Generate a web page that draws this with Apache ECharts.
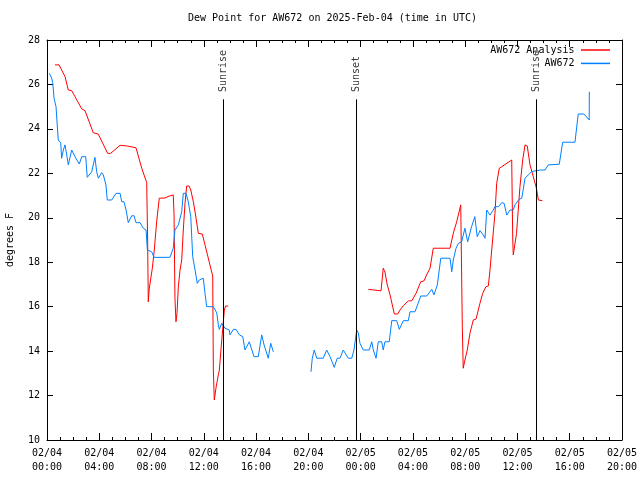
<!DOCTYPE html>
<html>
<head>
<meta charset="utf-8">
<script src="https://cdn.jsdelivr.net/npm/echarts@6/dist/echarts.min.js"></script>
<style>html,body{margin:0;padding:0;background:#fff;}#c{width:640px;height:480px;}</style>
</head>
<body>
<div id="c"></div>
<script>
// Hours since 2025-02-04 00:00 UTC
const analysisHours = [0.61,0.92,1.38,1.63,1.89,2.66,2.91,3.54,3.93,4.64,4.87,5.59,6.14,6.81,7.25,7.63,7.70,7.75,7.83,7.88,8.06,8.21,8.39,8.59,9.03,9.36,9.66,9.72,9.79,9.87,9.95,10.05,10.18,10.31,10.43,10.56,10.69,10.87,11.0,11.2,11.33,11.58,11.88,12.09,12.34,12.53,12.68,12.73,12.8,12.86,12.93,13.03,13.11,13.19,13.31,13.44,13.57,13.67,13.87,
  19.0,
  24.59,25.02,25.56,25.73,25.86,26.04,26.25,26.58,26.84,27.01,27.27,27.65,27.91,28.24,28.6,28.85,29.05,29.31,29.56,30.84,31.09,31.35,31.66,31.73,31.78,31.85,31.98,32.16,32.37,32.62,32.83,33.13,33.34,33.59,33.77,33.9,34.03,34.28,34.41,34.61,34.8,35.56,35.64,35.68,35.76,35.93,36.06,36.19,36.4,36.58,36.75,36.96,37.21,37.42,37.52,37.6,37.9];
const analysisValues = [26.88,26.88,26.35,25.75,25.72,24.9,24.82,23.83,23.76,22.9,22.9,23.26,23.23,23.15,22.23,21.58,19.0,16.22,16.84,16.9,17.73,18.55,19.82,20.88,20.89,20.98,21.03,20.2,16.38,15.32,15.7,16.9,17.65,18.1,19.45,20.65,21.43,21.43,21.25,20.72,20.26,19.3,19.27,18.78,18.19,17.73,17.38,13.15,11.8,12.03,12.34,12.4,12.93,13.15,14.05,14.95,15.85,16.03,16.03,
  null,
  16.78,16.75,16.71,17.73,17.56,16.98,16.53,15.67,15.67,15.85,16.04,16.26,16.26,16.6,17.12,17.16,17.43,17.73,18.63,18.63,19.3,19.82,20.58,20.58,15.1,13.23,13.6,14.05,14.82,15.4,15.44,16.15,16.6,16.9,16.93,17.65,18.55,20.2,21.55,22.23,22.3,22.6,19.0,18.33,18.42,19.3,20.35,21.4,22.6,23.28,23.23,22.38,21.85,21.4,21.1,20.8,20.77];

const obsHours = [0.18,0.36,0.44,0.54,0.69,0.79,0.86,1.05,1.12,1.25,1.38,1.51,1.63,1.89,2.14,2.47,2.66,2.78,2.96,3.08,3.42,3.67,3.8,3.93,4.19,4.31,4.51,4.61,4.95,5.28,5.59,5.72,5.89,6.05,6.22,6.48,6.66,6.81,7.12,7.37,7.58,7.68,8.01,8.19,9.41,9.66,9.79,10.05,10.31,10.43,10.64,10.81,11.0,11.15,11.33,11.5,11.65,11.96,12.09,12.22,12.73,12.99,13.11,13.19,13.37,13.49,13.62,13.95,14.0,14.26,14.46,14.72,14.98,15.15,15.48,15.84,16.17,16.43,16.61,16.93,17.12,17.32,
  18.8,
  20.2,20.3,20.45,20.64,21.14,21.4,21.66,21.98,22.21,22.42,22.67,23.06,23.32,23.49,23.7,23.82,23.95,24.2,24.66,24.85,24.97,25.18,25.35,25.61,25.73,25.86,26.19,26.38,26.76,26.96,27.27,27.65,27.78,28.16,28.6,29.06,29.44,29.61,29.87,30.13,30.84,30.97,31.09,31.3,31.48,31.73,31.98,32.19,32.49,32.74,32.92,33.13,33.38,33.52,33.65,33.9,34.15,34.28,34.54,34.8,34.98,35.18,35.43,35.68,35.81,36.12,36.33,36.58,36.83,37.09,37.21,37.73,38.11,38.36,39.2,39.46,40.4,40.65,41.09,41.49,41.5];
const obsValues = [26.5,26.28,26.07,25.38,25.0,25.0,23.5,23.37,22.68,23.05,23.28,22.83,22.38,23.05,22.75,22.42,22.75,22.78,22.75,21.82,22.07,22.72,22.07,21.78,22.03,21.93,21.48,20.8,20.8,21.1,21.1,20.72,20.72,20.35,19.78,20.09,20.09,19.78,19.78,19.53,19.45,18.55,18.47,18.22,18.22,18.63,19.45,19.68,20.27,21.1,21.1,20.72,20.05,18.25,17.65,17.05,17.2,17.28,16.6,16.0,16.0,15.72,15.18,14.98,15.25,15.32,15.03,14.95,14.73,14.98,14.98,14.73,14.65,14.05,14.42,13.75,13.75,14.73,14.28,13.68,14.35,13.97,
  null,
  13.07,13.68,14.05,13.68,13.68,14.05,13.75,13.27,13.68,13.68,14.05,13.68,13.68,14.05,14.95,14.82,14.35,14.05,14.05,14.42,14.05,13.68,14.42,14.42,14.05,14.42,14.42,15.37,15.37,14.98,15.37,15.37,15.77,15.77,16.48,16.48,16.78,16.53,16.98,18.18,18.18,17.57,18.1,18.63,18.85,18.92,19.53,18.92,19.6,20.05,19.15,19.42,19.23,19.08,20.35,20.12,20.35,20.5,20.5,20.68,20.65,20.12,20.35,20.35,20.58,20.83,20.88,21.78,21.93,22.08,22.15,22.15,22.15,22.38,22.41,23.4,23.4,24.67,24.67,24.4,25.67];

const eventHours = [13.49, 23.65, 37.44];
const eventNames = ['Sunrise', 'Sunset', 'Sunrise'];
const eventLineTop = 25.33;
const eventLabelBase = 25.66;

const tickLabels = ['02/04\n00:00','02/04\n04:00','02/04\n08:00','02/04\n12:00','02/04\n16:00','02/04\n20:00',
                    '02/05\n00:00','02/05\n04:00','02/05\n08:00','02/05\n12:00','02/05\n16:00','02/05\n20:00'];

const seriesNames = ['AW672 Analysis', 'AW672'];
const seriesColors = ['#ff0000', '#0080ff'];

const FONT = 'DejaVu Sans Mono';
const zip = (xs, ys) => xs.map((x, i) => [x, ys[i]]);

const chart = echarts.init(document.getElementById('c'), null, {renderer: 'canvas'});

const axisCommon = {
  axisLine: {show: true, onZero: false, lineStyle: {color: '#000', width: 1}},
  splitLine: {show: false},
};

chart.setOption({
  animation: false,
  backgroundColor: '#fff',
  title: {
    text: 'Dew Point for AW672 on 2025-Feb-04 (time in UTC)',
    left: 188, top: 13, padding: 0,
    textStyle: {fontFamily: FONT, fontSize: 10, fontWeight: 'normal', color: '#000'}
  },
  legend: {
    data: seriesNames,
    orient: 'vertical',
    right: 30, top: 44, padding: 0,
    align: 'right',
    icon: 'rect',
    itemWidth: 29, itemHeight: 1.5,
    itemGap: 1.4,
    textStyle: {fontFamily: FONT, fontSize: 10, color: '#000', lineHeight: 12, padding: [0, 1.5, 0, 0]}
  },
  grid: {left: 47, right: 18, top: 40, bottom: 40, containLabel: false, outerBoundsMode: 'none'},
  xAxis: [
    Object.assign({}, axisCommon, {
      type: 'value', min: 0, max: 44, interval: 4, position: 'bottom',
      axisTick: {show: true, inside: true, length: 7, lineStyle: {color: '#000'}},
      minorTick: {show: true, splitNumber: 4, length: 3, lineStyle: {color: '#000'}},
      axisLabel: {
        margin: 6, fontFamily: FONT, fontSize: 10, color: '#000', lineHeight: 14,
        formatter: v => tickLabels[Math.round(v / 4)] || ''
      }
    }),
    Object.assign({}, axisCommon, {
      type: 'value', min: 0, max: 44, interval: 4, position: 'top',
      axisTick: {show: true, inside: true, length: 7, lineStyle: {color: '#000'}},
      minorTick: {show: true, splitNumber: 4, length: 3, lineStyle: {color: '#000'}},
      axisLabel: {show: false}
    })
  ],
  yAxis: [
    Object.assign({}, axisCommon, {
      type: 'value', min: 10, max: 28, interval: 2, position: 'left',
      name: 'degrees F', nameLocation: 'middle', nameRotate: 90, nameGap: 32,
      nameTextStyle: {fontFamily: FONT, fontSize: 10, color: '#000'},
      axisTick: {show: true, inside: true, length: 6, lineStyle: {color: '#000'}},
      axisLabel: {margin: 7, fontFamily: FONT, fontSize: 10, color: '#000'}
    }),
    Object.assign({}, axisCommon, {
      type: 'value', min: 10, max: 28, interval: 2, position: 'right',
      axisTick: {show: true, inside: true, length: 6, lineStyle: {color: '#000'}},
      axisLabel: {show: false}
    })
  ],
  series: [
    {
      name: seriesNames[0], type: 'line', data: zip(analysisHours, analysisValues),
      showSymbol: false, symbol: 'none', connectNulls: false,
      lineStyle: {color: seriesColors[0], width: 1}, itemStyle: {color: seriesColors[0]}, z: 3
    },
    {
      name: seriesNames[1], type: 'line', data: zip(obsHours, obsValues),
      showSymbol: false, symbol: 'none', connectNulls: false,
      lineStyle: {color: seriesColors[1], width: 1}, itemStyle: {color: seriesColors[1]}, z: 3
    },
    {
      name: 'events', type: 'scatter', symbolSize: 0, silent: true, z: 4,
      data: eventHours.map((h, i) => ({value: [h, eventLabelBase], name: eventNames[i]})),
      label: {
        show: true, position: 'inside', rotate: 90, align: 'left', verticalAlign: 'middle',
        formatter: p => p.name, fontFamily: FONT, fontSize: 10, color: '#000'
      },
      markLine: {
        silent: true, symbol: 'none', animation: false,
        lineStyle: {color: '#000', width: 1, type: 'solid'},
        label: {show: false},
        data: eventHours.map(h => [{coord: [h, 10]}, {coord: [h, eventLineTop]}])
      }
    }
  ]
});
</script>
</body>
</html>
